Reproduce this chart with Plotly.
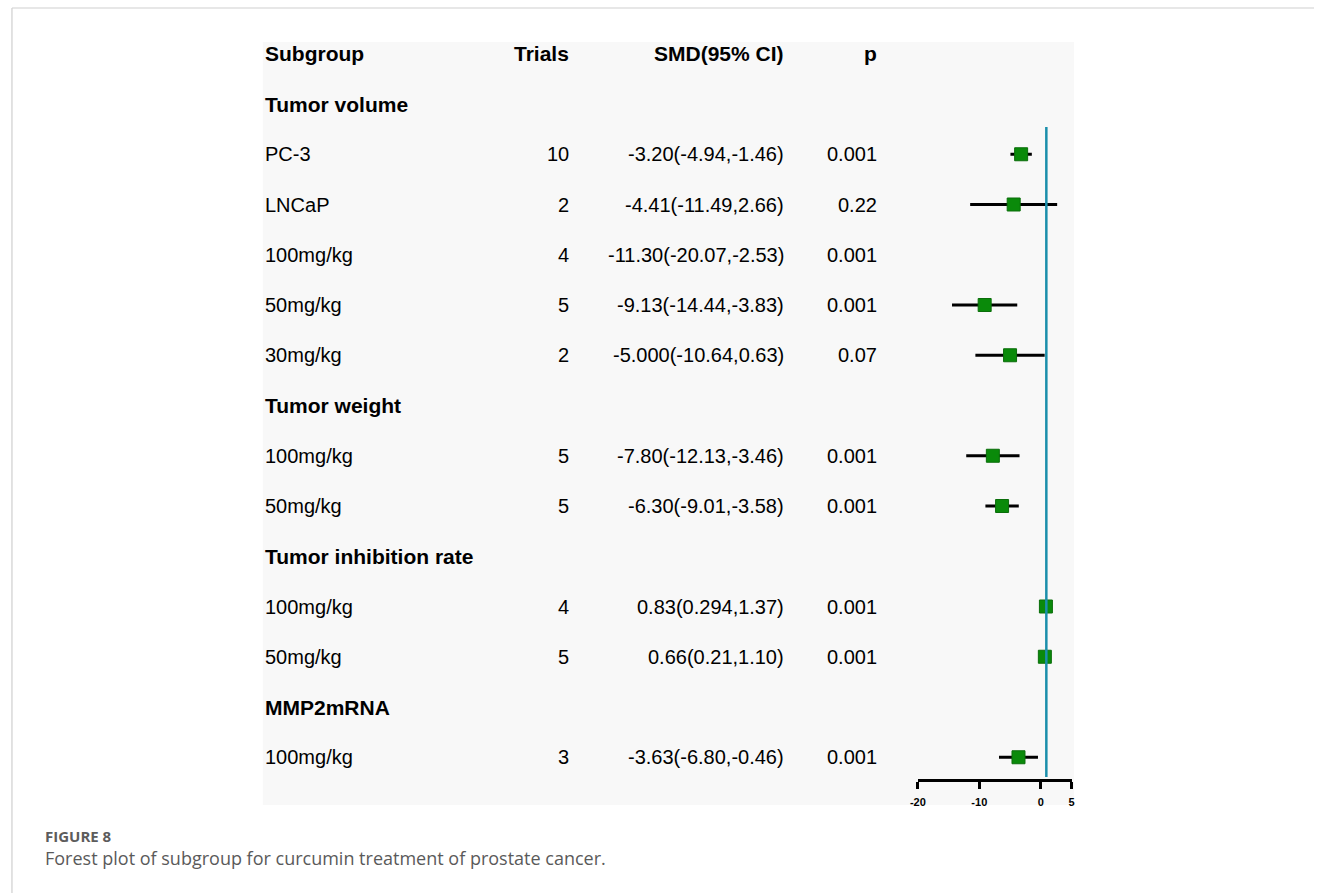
import plotly.graph_objects as go

# ---------------- data ----------------
row_labels = ["Tumor volume", "PC-3", "LNCaP", "100mg/kg", "50mg/kg", "30mg/kg",
              "Tumor weight", "100mg/kg", "50mg/kg",
              "Tumor inhibition rate", "100mg/kg", "50mg/kg",
              "MMP2mRNA", "100mg/kg"]
is_group = [True, False, False, False, False, False,
            True, False, False,
            True, False, False,
            True, False]
trials = [None, 10, 2, 4, 5, 2, None, 5, 5, None, 4, 5, None, 3]
smd = [None, -3.20, -4.41, -11.30, -9.13, -5.00, None, -7.80, -6.30, None, 0.83, 0.66, None, -3.63]
ci_low = [None, -4.94, -11.49, -20.07, -14.44, -10.64, None, -12.13, -9.01, None, 0.294, 0.21, None, -6.80]
ci_high = [None, -1.46, 2.66, -2.53, -3.83, 0.63, None, -3.46, -3.58, None, 1.37, 1.10, None, -0.46]
smd_text = ["", "-3.20(-4.94,-1.46)", "-4.41(-11.49,2.66)", "-11.30(-20.07,-2.53)",
            "-9.13(-14.44,-3.83)", "-5.000(-10.64,0.63)", "",
            "-7.80(-12.13,-3.46)", "-6.30(-9.01,-3.58)", "",
            "0.83(0.294,1.37)", "0.66(0.21,1.10)", "", "-3.63(-6.80,-0.46)"]
p_text = ["", "0.001", "0.22", "0.001", "0.001", "0.07", "", "0.001", "0.001", "",
          "0.001", "0.001", "", "0.001"]
# rows drawn in the forest panel (the 100mg/kg tumour-volume row is not drawn in the original)
drawn = [False, True, True, False, True, True, False, True, True, False, True, True, False, True]
headers = ["Subgroup", "Trials", "SMD(95% CI)", "p"]
x_ticks = [-20, -10, 0, 5]
x_range = [-20, 5]
ref_line = 0.9

# ---------------- figure ----------------
W, H = 1317, 893
FONT = "Liberation Sans, Arial, sans-serif"
CAP_FONT = "Open Sans, Noto Sans, sans-serif"

rows_idx = list(range(1, len(row_labels) + 1))  # header row is 0
px = [i for i, d in zip(rows_idx, drawn) if d]
ex = [s for s, d in zip(smd, drawn) if d]
hi = [h - s for h, s, d in zip(ci_high, smd, drawn) if d]
lo = [s - l for l, s, d in zip(ci_low, smd, drawn) if d]

fig = go.Figure()
fig.add_trace(go.Scatter(
    x=ex, y=px, mode="markers",
    marker=dict(symbol="square", size=13, color="#0a8a0a",
                line=dict(color="#0b6e0b", width=1)),
    error_x=dict(type="data", symmetric=False, array=hi, arrayminus=lo,
                 color="black", thickness=3, width=0),
    showlegend=False, hoverinfo="skip"))

# y mapping: row i at pixel 53.75 + 50.25*i ; plot area spans pixels 0..779
row0, step, axis_px = 53.75, 50.25, 779
y_top = (0 - row0) / step
y_bot = (axis_px - row0) / step

fig.update_layout(
    width=W, height=H, autosize=False,
    margin=dict(l=0, r=0, t=0, b=0),
    paper_bgcolor="white", plot_bgcolor="rgba(0,0,0,0)",
    xaxis=dict(domain=[917.5 / W, 1072.5 / W], range=x_range,
               tickvals=x_ticks, ticktext=[str(t) for t in x_ticks],
               showgrid=False, zeroline=False,
               showline=True, linecolor="black", linewidth=2.5,
               ticks="outside", ticklen=7, tickwidth=2.5, tickcolor="black",
               ticklabelstandoff=4,
               tickfont=dict(family=FONT, size=11, color="black", weight="bold")),
    yaxis=dict(domain=[(H - axis_px) / H, 1], range=[y_bot, y_top],
               visible=False, showgrid=False, zeroline=False),
)

shapes = []
# frame lines of the page
shapes.append(dict(type="line", xref="paper", yref="paper",
                   x0=4 / W, x1=1, y0=1 - 8 / H, y1=1 - 8 / H,
                   line=dict(color="#cfcfcf", width=1.2)))
shapes.append(dict(type="line", xref="paper", yref="paper",
                   x0=4 / W, x1=4 / W, y0=0, y1=1 - 8 / H,
                   line=dict(color="#cfcfcf", width=1.2)))
# light grey panel of the embedded figure
shapes.append(dict(type="rect", xref="paper", yref="paper", layer="below",
                   x0=257 / W, x1=1075 / W, y0=1 - 805 / H, y1=1 - 42 / H,
                   fillcolor="#f8f8f8", line=dict(width=0)))
# reference line
shapes.append(dict(type="line", xref="x", yref="y",
                   x0=ref_line, x1=ref_line,
                   y0=(127 - row0) / step, y1=(777 - row0) / step,
                   line=dict(color="#1b8fab", width=2.5)))
fig.update_layout(shapes=shapes)

ann = []
col_subgroup = 258 / W
col_trials = 567 / W
col_smd = 784 / W
col_p = 877 / W


def txt(x, y, s, anchor, bold=False, size=20):
    ann.append(dict(xref="paper", yref="y", x=x, y=y, text=s, showarrow=False,
                    xanchor=anchor, yanchor="middle", borderpad=0,
                    font=dict(family=FONT, size=size, color="black",
                              weight="bold" if bold else "normal")))


# header row
txt(col_subgroup, 0, headers[0], "left", True, 21)
txt(col_trials, 0, headers[1], "right", True, 21)
txt(col_smd, 0, headers[2], "right", True, 21)
txt(col_p, 0, headers[3], "right", True, 21)

for i, lab, g, t, s, p in zip(rows_idx, row_labels, is_group, trials, smd_text, p_text):
    if g:
        txt(col_subgroup, i, lab, "left", True, 21)
        continue
    txt(col_subgroup, i, lab, "left")
    txt(col_trials, i, str(t), "right")
    txt(col_smd, i, s, "right")
    txt(col_p, i, p, "right")

# caption
ann.append(dict(xref="paper", yref="paper", x=36 / W, y=1 - 847 / H, text="FIGURE 8",
                showarrow=False, xanchor="left", yanchor="bottom", borderpad=0,
                font=dict(family=CAP_FONT, size=15, color="#5c5c5c", weight="bold")))
ann.append(dict(xref="paper", yref="paper", x=36 / W, y=1 - 845 / H,
                text="Forest plot of subgroup for curcumin treatment of prostate cancer.",
                showarrow=False, xanchor="left", yanchor="top", borderpad=0,
                font=dict(family=CAP_FONT, size=18, color="#5a5a5a")))
fig.update_layout(annotations=ann)

fig.write_html("out.html", config={"displayModeBar": False},
               post_script="document.documentElement.style.margin='0';"
                           "document.body.style.margin='0';"
                           "document.body.style.overflow='hidden';")
